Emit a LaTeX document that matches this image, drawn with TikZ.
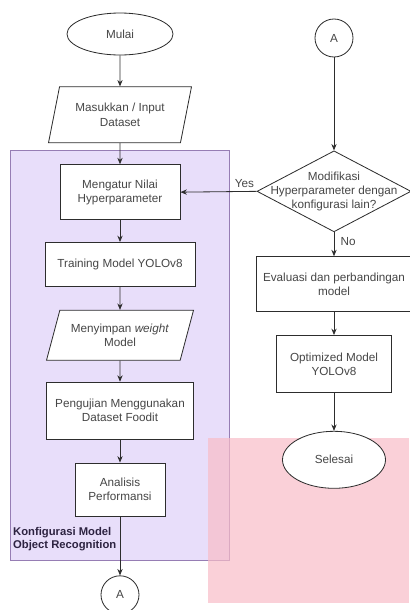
\documentclass[tikz,border=0pt]{standalone}
\usepackage{fontspec}
\setmainfont{Liberation Sans}
\usepackage{tikz}
\usetikzlibrary{shapes.geometric, arrows.meta, positioning, backgrounds}
\definecolor{GroupFill}{RGB}{232,222,250}
\definecolor{GroupLine}{RGB}{150,125,180}
\definecolor{PinkZone}{RGB}{248,188,199}
\definecolor{LineGray}{RGB}{45,45,45}
\definecolor{TextGray}{RGB}{70,70,70}
\definecolor{LabelDark}{RGB}{45,35,65}

\begin{document}
\begin{tikzpicture}[x=0.03cm, y=-0.03cm,
  proc/.style={draw=LineGray, fill=white, line width=0.7pt, inner sep=2pt,
               font=\fontsize{10}{12}\selectfont, text=TextGray, align=center},
  io/.style={proc, trapezium, trapezium left angle=68, trapezium right angle=112,
             trapezium stretches body},
  term/.style={proc, ellipse, inner sep=0pt},
  conn/.style={proc, circle, inner sep=0pt, minimum size=1.14cm},
  decision/.style={proc, diamond, inner sep=0pt},
  arr/.style={-{Stealth[length=5.5pt, width=4.5pt]}, LineGray, line width=0.7pt},
  edgelabel/.style={font=\fontsize{10}{12}\selectfont, text=TextGray},
  grouplabel/.style={font=\fontsize{9.6}{11.2}\selectfont\bfseries, text=LabelDark,
                     align=left, inner sep=0pt},
]
\useasboundingbox (0,0) rectangle (409,610);

% left column
\node[term, minimum width=3.18cm, minimum height=1.26cm] (mulai) at (120,34) {Mulai};
\node[io, minimum width=4.29cm, minimum height=1.68cm, below=0.93cm of mulai]
  (input) {Masukkan / Input\\Dataset};
\node[proc, minimum width=3.6cm, minimum height=1.65cm, below=0.63cm of input]
  (atur) {Mengatur Nilai\\Hyperparameter};
\node[proc, minimum width=4.5cm, minimum height=1.32cm, below=0.66cm of atur]
  (training) {Training Model YOLOv8};
\node[io, trapezium left angle=64, trapezium right angle=116,
      minimum width=4.41cm, minimum height=1.5cm, below=0.69cm of training]
  (simpan) {Menyimpan \textit{weight}\\Model};
\node[proc, minimum width=4.41cm, minimum height=1.71cm, below=0.63cm of simpan]
  (uji) {Pengujian Menggunakan\\Dataset Foodit};
\node[proc, minimum width=2.7cm, minimum height=1.59cm, below=0.69cm of uji]
  (analisis) {Analisis\\Performansi};
\node[conn, below=1.77cm of analisis] (konA) {A};

\node[grouplabel, anchor=north west] (grouptitle) at (13,527)
  {Konfigurasi Model\\Object Recognition};

% right column
\node[conn] (konB) at (334,38) {A};
\node[decision, minimum width=4.62cm, minimum height=2.43cm, below=2.79cm of konB]
  (modif) {};
\node[edgelabel, align=center] (modiftext) at (modif)
  {Modifikasi\\Hyperparameter dengan\\konfigurasi lain?};
\node[proc, minimum width=4.65cm, minimum height=1.65cm, below=0.72cm of modif]
  (evaluasi) {Evaluasi dan perbandingan\\model};
\node[proc, minimum width=3.45cm, minimum height=1.71cm, below=0.69cm of evaluasi]
  (optim) {Optimized Model\\YOLOv8};
\node[term, minimum width=3.09cm, minimum height=1.71cm, below=1.14cm of optim]
  (selesai) {Selesai};

\draw[arr] (mulai) -- (input);
\draw[arr] (input) -- (atur);
\draw[arr] (atur) -- (training);
\draw[arr] (training) -- (simpan);
\draw[arr] (simpan) -- (uji);
\draw[arr] (uji) -- (analisis);
\draw[arr] (analisis) -- (konA);

\draw[arr] (konB) -- (modif);
\draw[arr] (modif.west) -- node[edgelabel, pos=0.16, above] (yes) {Yes} (atur.east);
\draw[arr] (modif.south) -- node[edgelabel, pos=0.4, right, xshift=2pt] (no) {No} (evaluasi.north);
\draw[arr] (evaluasi) -- (optim);
\draw[arr] (optim) -- (selesai);

\begin{scope}[on background layer]
  \filldraw[fill=GroupFill, draw=GroupLine, line width=0.7pt] (10,150) rectangle (229,560);
  \fill[PinkZone, fill opacity=0.7] (208,438) rectangle (409,603);
\end{scope}
\end{tikzpicture}
\end{document}
